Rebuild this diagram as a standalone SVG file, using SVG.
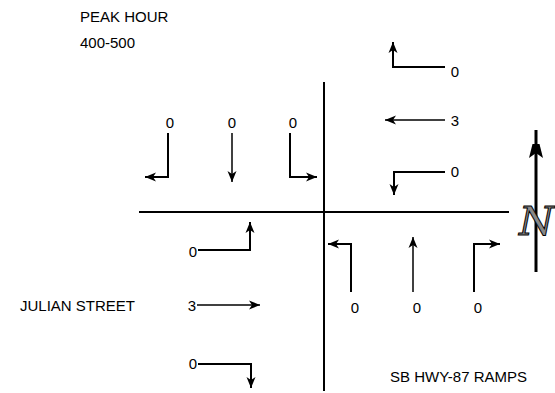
<svg xmlns="http://www.w3.org/2000/svg" width="555" height="393" viewBox="0 0 555 393">
<defs>
<marker id="ah" markerUnits="userSpaceOnUse" markerWidth="12" markerHeight="10" refX="11" refY="5" orient="auto">
<path d="M0,0.5 L11,5 L0,9.5 L3,5 z" fill="#000"/>
</marker>
<marker id="ahn" markerUnits="userSpaceOnUse" markerWidth="14" markerHeight="30" refX="28" refY="7" orient="auto">
<path d="M0,0 L28,7 L0,14 L5,7 z" fill="#000"/>
</marker>
</defs>
<style>
text{font-family:"Liberation Sans",Arial,sans-serif;font-size:15px;fill:#000}
.c{text-anchor:middle}
.mv{fill:none;stroke:#000;stroke-width:2;marker-end:url(#ah)}
.th{fill:none;stroke:#000;stroke-width:1.5;marker-end:url(#ah)}
.road{stroke:#000;stroke-width:2}
</style>
<rect width="555" height="393" fill="#fff"/>
<g id="labels">
<text x="80" y="22">PEAK HOUR</text>
<text x="80" y="48">400-500</text>
<text x="20" y="311">JULIAN STREET</text>
<text x="390" y="382">SB HWY-87 RAMPS</text>
</g>
<g id="roads">
<line class="road" x1="324" y1="82" x2="324" y2="391"/>
<line class="road" x1="139" y1="212" x2="509" y2="212"/>
</g>
<g id="north">
<line x1="536" y1="272" x2="536" y2="130" stroke="#000" stroke-width="3" marker-end="url(#ahn)"/>
<text x="519" y="235" style="font-family:'DejaVu Serif',serif;font-style:italic;font-size:40px;fill:#888;stroke:#000;stroke-width:1">N</text>
</g>
<g id="connectors">
<polyline class="mv" points="168,133 168,177 145,177"/>
<polyline class="th" points="232,133 232,182"/>
<polyline class="mv" points="290,133 290,177 317,177"/>
<polyline class="mv" points="445,67 393,67 393,42"/>
<polyline class="th" points="445,120 385,120"/>
<polyline class="mv" points="445,172 394,172 394,195"/>
<polyline class="mv" points="198,250 250,250 250,222"/>
<polyline class="th" points="197,305 260,305"/>
<polyline class="mv" points="198,364 251,364 251,388"/>
<polyline class="mv" points="351,292 351,244 328,244"/>
<polyline class="th" points="413,292 413,237"/>
<polyline class="mv" points="474,292 474,244 500,244"/>
</g>
<g id="sb-volumes">
<text class="c" x="170" y="128">0</text>
<text class="c" x="232" y="128">0</text>
<text class="c" x="293" y="128">0</text>
</g>
<g id="wb-volumes">
<text class="c" x="455" y="77">0</text>
<text class="c" x="455" y="126">3</text>
<text class="c" x="455" y="177">0</text>
</g>
<g id="eb-volumes">
<text class="c" x="193" y="257">0</text>
<text class="c" x="192" y="311">3</text>
<text class="c" x="193" y="369">0</text>
</g>
<g id="nb-volumes">
<text class="c" x="355" y="313">0</text>
<text class="c" x="417" y="313">0</text>
<text class="c" x="478" y="313">0</text>
</g>
</svg>
